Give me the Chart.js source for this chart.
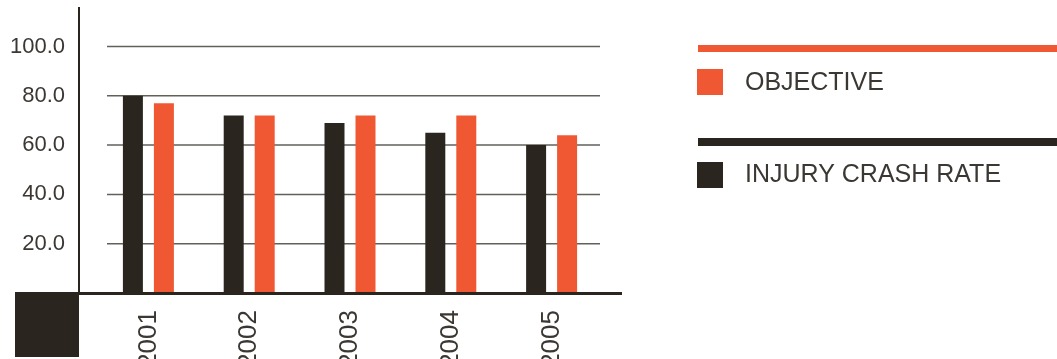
<!DOCTYPE html>
<html>
<head>
<meta charset="utf-8">
<script src="https://cdn.jsdelivr.net/npm/chart.js@4/dist/chart.umd.min.js"></script>
<style>
  html, body { margin: 0; padding: 0; background: #ffffff; }
  #wrap { width: 1057px; height: 359px; position: relative; }
</style>
</head>
<body>
<div id="wrap"><canvas id="c" width="1057" height="359"></canvas></div>
<script>
const years = ['2001', '2002', '2003', '2004', '2005'];
const injuryCrashRate = [80, 72, 69, 65, 60];
const objective = [77, 72, 72, 72, 64];
const seriesLabels = ['INJURY CRASH RATE', 'OBJECTIVE'];

const DARK = '#2a261f';
const ORANGE = '#ef5833';
const TEXT = '#3b3733';
const FONT = "'Liberation Sans', Helvetica, Arial, sans-serif";

const decor = {
  id: 'decor',
  beforeDatasetsDraw(chart) {
    const ctx = chart.ctx;
    const y = chart.scales.y;
    ctx.save();
    ctx.strokeStyle = '#62605b';
    ctx.lineWidth = 1.5;
    y.ticks.forEach(t => {
      if (t.value <= 0) return;
      const py = y.getPixelForValue(t.value);
      ctx.beginPath();
      ctx.moveTo(107, py);
      ctx.lineTo(600, py);
      ctx.stroke();
    });
    ctx.restore();
  },
  afterDatasetsDraw(chart) {
    const ctx = chart.ctx;
    const area = chart.chartArea;
    ctx.save();
    ctx.fillStyle = DARK;
    ctx.fillRect(78, area.top, 2, area.bottom - area.top);
    ctx.fillRect(15, area.bottom - 1, 607, 3);
    ctx.fillRect(15, area.bottom, 64, 64);

    const items = [
      { label: chart.data.datasets[1].label, color: chart.data.datasets[1].backgroundColor, lineY: 45, lineH: 7, sqY: 69, textY: 83 },
      { label: chart.data.datasets[0].label, color: chart.data.datasets[0].backgroundColor, lineY: 138, lineH: 8, sqY: 162, textY: 175.5 }
    ];
    items.forEach(it => {
      ctx.fillStyle = it.color;
      ctx.fillRect(698, it.lineY, 1057 - 698, it.lineH);
      ctx.fillRect(697, it.sqY, 26, 26);
      ctx.fillStyle = TEXT;
      ctx.font = '25px ' + FONT;
      ctx.textAlign = 'left';
      ctx.textBaseline = 'middle';
      ctx.fillText(it.label, 745, it.textY);
    });
    ctx.restore();
  }
};

new Chart(document.getElementById('c'), {
  type: 'bar',
  data: {
    labels: years,
    datasets: [
      { label: seriesLabels[0], data: injuryCrashRate, backgroundColor: DARK, borderWidth: 0 },
      { label: seriesLabels[1], data: objective, backgroundColor: ORANGE, borderWidth: 0 }
    ]
  },
  options: {
    responsive: false,
    animation: false,
    devicePixelRatio: 1,
    categoryPercentage: 0.615,
    barPercentage: 0.645,
    layout: { autoPadding: false, padding: { left: 0, right: 455, top: 7, bottom: 0 } },
    plugins: { legend: { display: false }, tooltip: { enabled: false } },
    scales: {
      x: {
        grid: { display: false, drawTicks: false },
        border: { display: false },
        ticks: {
          maxRotation: 90, minRotation: 90,
          padding: 17,
          color: TEXT,
          font: { family: FONT, size: 26 }
        },
        afterFit(scale) { scale.height = 66; scale.paddingLeft = 0; scale.paddingRight = 0; }
      },
      y: {
        min: 0, max: 116,
        grid: { display: false, drawTicks: false },
        border: { display: false },
        ticks: {
          stepSize: 20,
          includeBounds: false,
          padding: 33,
          color: TEXT,
          font: { family: FONT, size: 22 },
          callback: v => (v === 0 ? '' : Number(v).toFixed(1))
        },
        afterFit(scale) { scale.width = 98; scale.paddingTop = 0; scale.paddingBottom = 0; }
      }
    }
  },
  plugins: [decor]
});
</script>
</body>
</html>
